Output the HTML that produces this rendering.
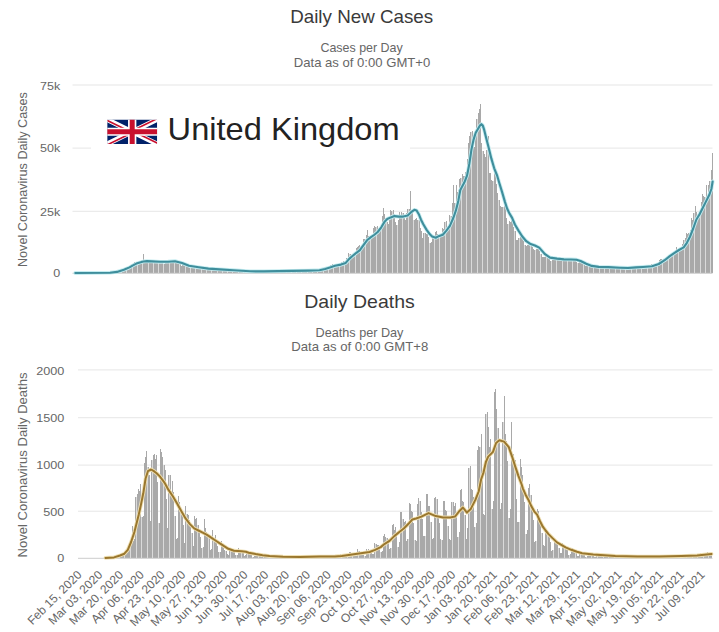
<!DOCTYPE html>
<html><head><meta charset="utf-8"><title>United Kingdom COVID-19</title>
<style>html,body{margin:0;padding:0;background:#fff;width:719px;height:632px;overflow:hidden}svg{display:block}</style>
</head><body>
<svg width="719" height="632" viewBox="0 0 719 632" font-family='"Liberation Sans", sans-serif'><text x="361.7" y="23.4" font-size="19" fill="#3a3a3a" text-anchor="middle" textLength="143" lengthAdjust="spacingAndGlyphs">Daily New Cases</text>
<text x="361.6" y="52.3" font-size="12.8" fill="#666666" text-anchor="middle" textLength="82.3" lengthAdjust="spacingAndGlyphs">Cases per Day</text>
<text x="362" y="66.8" font-size="12.8" fill="#666666" text-anchor="middle" textLength="136.5" lengthAdjust="spacingAndGlyphs">Data as of 0:00 GMT+0</text>
<rect x="72.5" y="84.5" width="640" height="1" fill="#e6e6e6"/>
<rect x="72.5" y="147.6" width="640" height="1" fill="#e6e6e6"/>
<rect x="72.5" y="210.8" width="640" height="1" fill="#e6e6e6"/>
<text x="60.2" y="89.8" font-size="11.5" fill="#666666" text-anchor="end" textLength="20.21" lengthAdjust="spacingAndGlyphs">75k</text>
<text x="60.2" y="151.9" font-size="11.5" fill="#666666" text-anchor="end" textLength="20.21" lengthAdjust="spacingAndGlyphs">50k</text>
<text x="60.2" y="215.6" font-size="11.5" fill="#666666" text-anchor="end" textLength="20.21" lengthAdjust="spacingAndGlyphs">25k</text>
<text x="60.2" y="277.2" font-size="11.5" fill="#666666" text-anchor="end" textLength="6.97" lengthAdjust="spacingAndGlyphs">0</text>
<text transform="translate(26.8,179.6) rotate(-90)" font-size="12.6" fill="#666666" text-anchor="middle" textLength="175" lengthAdjust="spacingAndGlyphs">Novel Coronavirus Daily Cases</text>
<g fill="#dadada" shape-rendering="crispEdges"><rect x="79" y="273.0" width="1" height="0.3"/><rect x="84" y="273.0" width="1" height="0.3"/><rect x="89" y="273.0" width="1" height="0.3"/><rect x="94" y="273.0" width="1" height="0.3"/><rect x="100" y="273.0" width="1" height="0.3"/><rect x="105" y="273.0" width="1" height="0.3"/><rect x="110" y="273.0" width="1" height="0.3"/><rect x="116" y="271.2" width="1" height="2.1"/><rect x="121" y="270.0" width="1" height="3.3"/><rect x="126" y="266.8" width="1" height="6.5"/><rect x="132" y="264.4" width="1" height="8.9"/><rect x="137" y="263.1" width="1" height="10.2"/><rect x="142" y="259.8" width="1" height="13.5"/><rect x="148" y="262.5" width="1" height="10.8"/><rect x="153" y="263.0" width="1" height="10.3"/><rect x="158" y="262.3" width="1" height="11.0"/><rect x="163" y="263.7" width="1" height="9.6"/><rect x="169" y="260.9" width="1" height="12.4"/><rect x="174" y="262.2" width="1" height="11.1"/><rect x="179" y="264.3" width="1" height="9.0"/><rect x="185" y="265.9" width="1" height="7.4"/><rect x="190" y="267.6" width="1" height="5.7"/><rect x="195" y="267.3" width="1" height="6.0"/><rect x="201" y="267.9" width="1" height="5.4"/><rect x="206" y="269.2" width="1" height="4.1"/><rect x="211" y="268.8" width="1" height="4.5"/><rect x="217" y="269.7" width="1" height="3.6"/><rect x="222" y="270.2" width="1" height="3.1"/><rect x="227" y="269.8" width="1" height="3.5"/><rect x="232" y="270.7" width="1" height="2.6"/><rect x="238" y="270.8" width="1" height="2.5"/><rect x="243" y="271.2" width="1" height="2.1"/><rect x="248" y="271.4" width="1" height="1.9"/><rect x="254" y="271.2" width="1" height="2.1"/><rect x="259" y="271.5" width="1" height="1.8"/><rect x="264" y="271.3" width="1" height="2.0"/><rect x="270" y="271.3" width="1" height="2.0"/><rect x="275" y="271.3" width="1" height="2.0"/><rect x="280" y="271.0" width="1" height="2.3"/><rect x="286" y="271.3" width="1" height="2.0"/><rect x="291" y="271.0" width="1" height="2.3"/><rect x="296" y="270.6" width="1" height="2.7"/><rect x="301" y="270.8" width="1" height="2.5"/><rect x="307" y="270.5" width="1" height="2.8"/><rect x="312" y="270.4" width="1" height="2.9"/><rect x="317" y="270.1" width="1" height="3.2"/><rect x="323" y="267.9" width="1" height="5.4"/><rect x="328" y="267.9" width="1" height="5.4"/><rect x="333" y="264.9" width="1" height="8.4"/><rect x="339" y="263.6" width="1" height="9.7"/><rect x="344" y="261.2" width="1" height="12.1"/><rect x="349" y="253.5" width="1" height="19.8"/><rect x="355" y="251.9" width="1" height="21.4"/><rect x="360" y="247.7" width="1" height="25.6"/><rect x="365" y="238.6" width="1" height="34.7"/><rect x="370" y="238.5" width="1" height="34.8"/><rect x="376" y="226.8" width="1" height="46.5"/><rect x="381" y="227.7" width="1" height="45.6"/><rect x="386" y="222.0" width="1" height="51.3"/><rect x="392" y="211.0" width="1" height="62.3"/><rect x="397" y="224.8" width="1" height="48.5"/><rect x="402" y="213.4" width="1" height="59.9"/><rect x="408" y="208.9" width="1" height="64.4"/><rect x="413" y="219.9" width="1" height="53.4"/><rect x="418" y="219.5" width="1" height="53.8"/><rect x="424" y="232.5" width="1" height="40.8"/><rect x="429" y="242.9" width="1" height="30.4"/><rect x="434" y="236.0" width="1" height="37.3"/><rect x="439" y="237.4" width="1" height="35.9"/><rect x="445" y="221.6" width="1" height="51.7"/><rect x="450" y="215.7" width="1" height="57.6"/><rect x="455" y="202.6" width="1" height="70.7"/><rect x="461" y="177.7" width="1" height="95.6"/><rect x="466" y="172.4" width="1" height="100.9"/><rect x="471" y="132.4" width="1" height="140.9"/><rect x="477" y="118.5" width="1" height="154.8"/><rect x="482" y="151.4" width="1" height="121.9"/><rect x="487" y="150.4" width="1" height="122.9"/><rect x="493" y="181.1" width="1" height="92.2"/><rect x="498" y="200.1" width="1" height="73.2"/><rect x="503" y="206.8" width="1" height="66.5"/><rect x="508" y="224.1" width="1" height="49.2"/><rect x="514" y="230.7" width="1" height="42.6"/><rect x="519" y="238.4" width="1" height="34.9"/><rect x="524" y="244.8" width="1" height="28.5"/><rect x="530" y="242.9" width="1" height="30.4"/><rect x="535" y="249.9" width="1" height="23.4"/><rect x="540" y="254.0" width="1" height="19.3"/><rect x="546" y="256.5" width="1" height="16.8"/><rect x="551" y="260.5" width="1" height="12.8"/><rect x="556" y="259.4" width="1" height="13.9"/><rect x="562" y="260.7" width="1" height="12.6"/><rect x="567" y="259.9" width="1" height="13.4"/><rect x="572" y="258.8" width="1" height="14.5"/><rect x="577" y="262.8" width="1" height="10.5"/><rect x="583" y="264.1" width="1" height="9.2"/><rect x="588" y="265.8" width="1" height="7.5"/><rect x="593" y="267.1" width="1" height="6.2"/><rect x="599" y="266.4" width="1" height="6.9"/><rect x="604" y="267.7" width="1" height="5.6"/><rect x="609" y="267.4" width="1" height="5.9"/><rect x="615" y="267.6" width="1" height="5.7"/><rect x="620" y="268.4" width="1" height="4.9"/><rect x="625" y="267.7" width="1" height="5.6"/><rect x="631" y="267.9" width="1" height="5.4"/><rect x="636" y="268.1" width="1" height="5.2"/><rect x="641" y="267.1" width="1" height="6.2"/><rect x="647" y="267.1" width="1" height="6.2"/><rect x="652" y="264.3" width="1" height="9.0"/><rect x="657" y="263.7" width="1" height="9.6"/><rect x="662" y="260.6" width="1" height="12.7"/><rect x="668" y="258.2" width="1" height="15.1"/><rect x="673" y="253.5" width="1" height="19.8"/><rect x="678" y="249.3" width="1" height="24.0"/><rect x="684" y="239.8" width="1" height="33.5"/><rect x="689" y="232.8" width="1" height="40.5"/><rect x="694" y="213.0" width="1" height="60.3"/><rect x="700" y="212.2" width="1" height="61.1"/><rect x="705" y="196.6" width="1" height="76.7"/><rect x="710" y="181.3" width="1" height="92.0"/></g><g fill="#a9a9a9" shape-rendering="crispEdges"><rect x="75" y="273.0" width="1" height="0.3"/><rect x="76" y="273.0" width="1" height="0.3"/><rect x="77" y="273.0" width="1" height="0.3"/><rect x="78" y="273.0" width="1" height="0.3"/><rect x="80" y="273.0" width="1" height="0.3"/><rect x="81" y="273.0" width="1" height="0.3"/><rect x="82" y="273.0" width="1" height="0.3"/><rect x="83" y="273.0" width="1" height="0.3"/><rect x="85" y="273.0" width="1" height="0.3"/><rect x="86" y="273.0" width="1" height="0.3"/><rect x="87" y="273.0" width="1" height="0.3"/><rect x="88" y="273.0" width="1" height="0.3"/><rect x="90" y="273.0" width="1" height="0.3"/><rect x="91" y="273.0" width="1" height="0.3"/><rect x="92" y="273.0" width="1" height="0.3"/><rect x="93" y="273.0" width="1" height="0.3"/><rect x="95" y="273.0" width="1" height="0.3"/><rect x="96" y="273.0" width="1" height="0.3"/><rect x="97" y="273.0" width="1" height="0.3"/><rect x="98" y="273.0" width="1" height="0.3"/><rect x="99" y="273.0" width="1" height="0.3"/><rect x="101" y="273.0" width="1" height="0.3"/><rect x="102" y="273.0" width="1" height="0.3"/><rect x="103" y="273.0" width="1" height="0.3"/><rect x="104" y="273.0" width="1" height="0.3"/><rect x="106" y="273.0" width="1" height="0.3"/><rect x="107" y="273.0" width="1" height="0.3"/><rect x="108" y="273.0" width="1" height="0.3"/><rect x="109" y="273.0" width="1" height="0.3"/><rect x="111" y="272.7" width="1" height="0.6"/><rect x="112" y="272.3" width="1" height="1.0"/><rect x="113" y="272.0" width="1" height="1.3"/><rect x="114" y="271.6" width="1" height="1.7"/><rect x="115" y="271.2" width="1" height="2.1"/><rect x="117" y="270.8" width="1" height="2.5"/><rect x="118" y="270.5" width="1" height="2.8"/><rect x="119" y="270.3" width="1" height="3.0"/><rect x="120" y="270.0" width="1" height="3.3"/><rect x="122" y="269.2" width="1" height="4.1"/><rect x="123" y="268.0" width="1" height="5.3"/><rect x="124" y="267.6" width="1" height="5.7"/><rect x="125" y="266.8" width="1" height="6.5"/><rect x="127" y="266.6" width="1" height="6.7"/><rect x="128" y="267.0" width="1" height="6.3"/><rect x="129" y="266.1" width="1" height="7.2"/><rect x="130" y="264.5" width="1" height="8.8"/><rect x="131" y="264.4" width="1" height="8.9"/><rect x="133" y="262.7" width="1" height="10.6"/><rect x="134" y="262.2" width="1" height="11.1"/><rect x="135" y="263.0" width="1" height="10.3"/><rect x="136" y="263.0" width="1" height="10.3"/><rect x="138" y="263.1" width="1" height="10.2"/><rect x="139" y="262.7" width="1" height="10.6"/><rect x="140" y="260.5" width="1" height="12.8"/><rect x="141" y="259.8" width="1" height="13.5"/><rect x="143" y="254.2" width="1" height="19.1"/><rect x="144" y="260.5" width="1" height="12.8"/><rect x="145" y="262.0" width="1" height="11.3"/><rect x="146" y="262.5" width="1" height="10.8"/><rect x="147" y="262.5" width="1" height="10.8"/><rect x="149" y="260.7" width="1" height="12.6"/><rect x="150" y="260.8" width="1" height="12.5"/><rect x="151" y="260.8" width="1" height="12.5"/><rect x="152" y="262.2" width="1" height="11.1"/><rect x="154" y="263.0" width="1" height="10.3"/><rect x="155" y="263.1" width="1" height="10.2"/><rect x="156" y="261.7" width="1" height="11.6"/><rect x="157" y="262.3" width="1" height="11.0"/><rect x="159" y="261.5" width="1" height="11.8"/><rect x="160" y="260.6" width="1" height="12.7"/><rect x="161" y="261.1" width="1" height="12.2"/><rect x="162" y="262.4" width="1" height="10.9"/><rect x="164" y="263.7" width="1" height="9.6"/><rect x="165" y="263.2" width="1" height="10.1"/><rect x="166" y="260.9" width="1" height="12.4"/><rect x="167" y="260.8" width="1" height="12.5"/><rect x="168" y="260.9" width="1" height="12.4"/><rect x="170" y="260.8" width="1" height="12.5"/><rect x="171" y="261.7" width="1" height="11.6"/><rect x="172" y="262.7" width="1" height="10.6"/><rect x="173" y="262.2" width="1" height="11.1"/><rect x="175" y="261.5" width="1" height="11.8"/><rect x="176" y="260.8" width="1" height="12.5"/><rect x="177" y="261.6" width="1" height="11.7"/><rect x="178" y="263.0" width="1" height="10.3"/><rect x="180" y="264.3" width="1" height="9.0"/><rect x="181" y="265.6" width="1" height="7.7"/><rect x="182" y="264.6" width="1" height="8.7"/><rect x="183" y="264.5" width="1" height="8.8"/><rect x="184" y="264.8" width="1" height="8.5"/><rect x="186" y="265.9" width="1" height="7.4"/><rect x="187" y="266.3" width="1" height="7.0"/><rect x="188" y="266.7" width="1" height="6.6"/><rect x="189" y="267.6" width="1" height="5.7"/><rect x="191" y="267.0" width="1" height="6.3"/><rect x="192" y="266.4" width="1" height="6.9"/><rect x="193" y="266.9" width="1" height="6.4"/><rect x="194" y="266.3" width="1" height="7.0"/><rect x="196" y="267.3" width="1" height="6.0"/><rect x="197" y="268.1" width="1" height="5.2"/><rect x="198" y="268.3" width="1" height="5.0"/><rect x="199" y="268.0" width="1" height="5.3"/><rect x="200" y="267.9" width="1" height="5.4"/><rect x="202" y="267.6" width="1" height="5.7"/><rect x="203" y="268.1" width="1" height="5.2"/><rect x="204" y="268.7" width="1" height="4.6"/><rect x="205" y="268.9" width="1" height="4.4"/><rect x="207" y="269.2" width="1" height="4.1"/><rect x="208" y="269.2" width="1" height="4.1"/><rect x="209" y="268.6" width="1" height="4.7"/><rect x="210" y="268.4" width="1" height="4.9"/><rect x="212" y="268.8" width="1" height="4.5"/><rect x="213" y="269.4" width="1" height="3.9"/><rect x="214" y="269.6" width="1" height="3.7"/><rect x="215" y="269.8" width="1" height="3.5"/><rect x="216" y="269.7" width="1" height="3.6"/><rect x="218" y="269.2" width="1" height="4.1"/><rect x="219" y="269.4" width="1" height="3.9"/><rect x="220" y="269.2" width="1" height="4.1"/><rect x="221" y="269.9" width="1" height="3.4"/><rect x="223" y="270.2" width="1" height="3.1"/><rect x="224" y="270.2" width="1" height="3.1"/><rect x="225" y="270.0" width="1" height="3.3"/><rect x="226" y="269.8" width="1" height="3.5"/><rect x="228" y="269.8" width="1" height="3.5"/><rect x="229" y="269.9" width="1" height="3.4"/><rect x="230" y="270.2" width="1" height="3.1"/><rect x="231" y="270.5" width="1" height="2.8"/><rect x="233" y="270.7" width="1" height="2.6"/><rect x="234" y="270.6" width="1" height="2.7"/><rect x="235" y="270.4" width="1" height="2.9"/><rect x="236" y="270.4" width="1" height="2.9"/><rect x="237" y="270.4" width="1" height="2.9"/><rect x="239" y="270.8" width="1" height="2.5"/><rect x="240" y="270.9" width="1" height="2.4"/><rect x="241" y="271.2" width="1" height="2.1"/><rect x="242" y="271.2" width="1" height="2.1"/><rect x="244" y="271.1" width="1" height="2.2"/><rect x="245" y="271.1" width="1" height="2.2"/><rect x="246" y="271.0" width="1" height="2.3"/><rect x="247" y="271.3" width="1" height="2.0"/><rect x="249" y="271.4" width="1" height="1.9"/><rect x="250" y="271.4" width="1" height="1.9"/><rect x="251" y="271.6" width="1" height="1.7"/><rect x="252" y="271.4" width="1" height="1.9"/><rect x="253" y="271.2" width="1" height="2.1"/><rect x="255" y="271.2" width="1" height="2.1"/><rect x="256" y="271.4" width="1" height="1.9"/><rect x="257" y="271.6" width="1" height="1.7"/><rect x="258" y="271.5" width="1" height="1.8"/><rect x="260" y="271.5" width="1" height="1.8"/><rect x="261" y="271.3" width="1" height="2.0"/><rect x="262" y="271.0" width="1" height="2.3"/><rect x="263" y="271.1" width="1" height="2.2"/><rect x="265" y="271.3" width="1" height="2.0"/><rect x="266" y="271.4" width="1" height="1.9"/><rect x="267" y="271.5" width="1" height="1.8"/><rect x="268" y="271.3" width="1" height="2.0"/><rect x="269" y="271.3" width="1" height="2.0"/><rect x="271" y="271.0" width="1" height="2.3"/><rect x="272" y="270.9" width="1" height="2.4"/><rect x="273" y="271.2" width="1" height="2.1"/><rect x="274" y="271.3" width="1" height="2.0"/><rect x="276" y="271.2" width="1" height="2.1"/><rect x="277" y="271.1" width="1" height="2.2"/><rect x="278" y="270.8" width="1" height="2.5"/><rect x="279" y="271.0" width="1" height="2.3"/><rect x="281" y="270.8" width="1" height="2.5"/><rect x="282" y="271.0" width="1" height="2.3"/><rect x="283" y="271.1" width="1" height="2.2"/><rect x="284" y="271.1" width="1" height="2.2"/><rect x="285" y="271.3" width="1" height="2.0"/><rect x="287" y="270.7" width="1" height="2.6"/><rect x="288" y="270.8" width="1" height="2.5"/><rect x="289" y="270.6" width="1" height="2.7"/><rect x="290" y="271.0" width="1" height="2.3"/><rect x="292" y="271.0" width="1" height="2.3"/><rect x="293" y="270.9" width="1" height="2.4"/><rect x="294" y="270.9" width="1" height="2.4"/><rect x="295" y="270.6" width="1" height="2.7"/><rect x="297" y="270.4" width="1" height="2.9"/><rect x="298" y="270.5" width="1" height="2.8"/><rect x="299" y="270.7" width="1" height="2.6"/><rect x="300" y="270.7" width="1" height="2.6"/><rect x="302" y="270.8" width="1" height="2.5"/><rect x="303" y="270.8" width="1" height="2.5"/><rect x="304" y="270.2" width="1" height="3.1"/><rect x="305" y="270.5" width="1" height="2.8"/><rect x="306" y="270.2" width="1" height="3.1"/><rect x="308" y="270.5" width="1" height="2.8"/><rect x="309" y="270.6" width="1" height="2.7"/><rect x="310" y="270.6" width="1" height="2.7"/><rect x="311" y="270.4" width="1" height="2.9"/><rect x="313" y="270.1" width="1" height="3.2"/><rect x="314" y="270.2" width="1" height="3.1"/><rect x="315" y="270.1" width="1" height="3.2"/><rect x="316" y="269.9" width="1" height="3.4"/><rect x="318" y="270.1" width="1" height="3.2"/><rect x="319" y="269.9" width="1" height="3.4"/><rect x="320" y="269.5" width="1" height="3.8"/><rect x="321" y="268.4" width="1" height="4.9"/><rect x="322" y="267.9" width="1" height="5.4"/><rect x="324" y="267.3" width="1" height="6.0"/><rect x="325" y="268.0" width="1" height="5.3"/><rect x="326" y="267.9" width="1" height="5.4"/><rect x="327" y="267.9" width="1" height="5.4"/><rect x="329" y="266.6" width="1" height="6.7"/><rect x="330" y="265.4" width="1" height="7.9"/><rect x="331" y="265.4" width="1" height="7.9"/><rect x="332" y="264.3" width="1" height="9.0"/><rect x="334" y="264.9" width="1" height="8.4"/><rect x="335" y="265.7" width="1" height="7.6"/><rect x="336" y="266.2" width="1" height="7.1"/><rect x="337" y="264.3" width="1" height="9.0"/><rect x="338" y="263.6" width="1" height="9.7"/><rect x="340" y="262.9" width="1" height="10.4"/><rect x="341" y="262.0" width="1" height="11.3"/><rect x="342" y="262.0" width="1" height="11.3"/><rect x="343" y="261.0" width="1" height="12.3"/><rect x="345" y="261.2" width="1" height="12.1"/><rect x="346" y="258.1" width="1" height="15.2"/><rect x="347" y="257.5" width="1" height="15.8"/><rect x="348" y="253.4" width="1" height="19.9"/><rect x="350" y="253.5" width="1" height="19.8"/><rect x="351" y="254.6" width="1" height="18.7"/><rect x="352" y="253.8" width="1" height="19.5"/><rect x="353" y="254.1" width="1" height="19.2"/><rect x="354" y="251.9" width="1" height="21.4"/><rect x="356" y="247.9" width="1" height="25.4"/><rect x="357" y="246.5" width="1" height="26.8"/><rect x="358" y="245.7" width="1" height="27.6"/><rect x="359" y="245.4" width="1" height="27.9"/><rect x="361" y="247.7" width="1" height="25.6"/><rect x="362" y="243.8" width="1" height="29.5"/><rect x="363" y="238.6" width="1" height="34.7"/><rect x="364" y="238.6" width="1" height="34.7"/><rect x="366" y="234.9" width="1" height="38.4"/><rect x="367" y="230.2" width="1" height="43.1"/><rect x="368" y="236.2" width="1" height="37.1"/><rect x="369" y="236.6" width="1" height="36.7"/><rect x="371" y="238.5" width="1" height="34.8"/><rect x="372" y="233.5" width="1" height="39.8"/><rect x="373" y="228.3" width="1" height="45.0"/><rect x="374" y="225.5" width="1" height="47.8"/><rect x="375" y="226.8" width="1" height="46.5"/><rect x="377" y="226.3" width="1" height="47.0"/><rect x="378" y="233.0" width="1" height="40.3"/><rect x="379" y="230.8" width="1" height="42.5"/><rect x="380" y="227.7" width="1" height="45.6"/><rect x="382" y="215.9" width="1" height="57.4"/><rect x="383" y="208.3" width="1" height="65.0"/><rect x="384" y="213.6" width="1" height="59.7"/><rect x="385" y="218.4" width="1" height="54.9"/><rect x="387" y="222.0" width="1" height="51.3"/><rect x="388" y="223.8" width="1" height="49.5"/><rect x="389" y="218.3" width="1" height="55.0"/><rect x="390" y="209.6" width="1" height="63.7"/><rect x="391" y="211.0" width="1" height="62.3"/><rect x="393" y="209.9" width="1" height="63.4"/><rect x="394" y="214.2" width="1" height="59.1"/><rect x="395" y="221.5" width="1" height="51.8"/><rect x="396" y="224.8" width="1" height="48.5"/><rect x="398" y="220.1" width="1" height="53.2"/><rect x="399" y="211.8" width="1" height="61.5"/><rect x="400" y="215.3" width="1" height="58.0"/><rect x="401" y="212.4" width="1" height="60.9"/><rect x="403" y="213.4" width="1" height="59.9"/><rect x="404" y="218.2" width="1" height="55.1"/><rect x="405" y="220.0" width="1" height="53.3"/><rect x="406" y="213.4" width="1" height="59.9"/><rect x="407" y="208.9" width="1" height="64.4"/><rect x="409" y="208.5" width="1" height="64.8"/><rect x="410" y="190.9" width="1" height="82.4"/><rect x="411" y="211.7" width="1" height="61.6"/><rect x="412" y="213.4" width="1" height="59.9"/><rect x="414" y="219.9" width="1" height="53.4"/><rect x="415" y="219.2" width="1" height="54.1"/><rect x="416" y="217.5" width="1" height="55.8"/><rect x="417" y="219.5" width="1" height="53.8"/><rect x="419" y="219.0" width="1" height="54.3"/><rect x="420" y="227.7" width="1" height="45.6"/><rect x="421" y="230.6" width="1" height="42.7"/><rect x="422" y="237.7" width="1" height="35.6"/><rect x="423" y="232.5" width="1" height="40.8"/><rect x="425" y="232.5" width="1" height="40.8"/><rect x="426" y="234.3" width="1" height="39.0"/><rect x="427" y="231.1" width="1" height="42.2"/><rect x="428" y="237.0" width="1" height="36.3"/><rect x="430" y="242.9" width="1" height="30.4"/><rect x="431" y="242.2" width="1" height="31.1"/><rect x="432" y="238.4" width="1" height="34.9"/><rect x="433" y="236.0" width="1" height="37.3"/><rect x="435" y="231.6" width="1" height="41.7"/><rect x="436" y="231.0" width="1" height="42.3"/><rect x="437" y="234.2" width="1" height="39.1"/><rect x="438" y="237.4" width="1" height="35.9"/><rect x="440" y="235.7" width="1" height="37.6"/><rect x="441" y="232.9" width="1" height="40.4"/><rect x="442" y="228.4" width="1" height="44.9"/><rect x="443" y="229.3" width="1" height="44.0"/><rect x="444" y="221.6" width="1" height="51.7"/><rect x="446" y="221.0" width="1" height="52.3"/><rect x="447" y="227.6" width="1" height="45.7"/><rect x="448" y="226.4" width="1" height="46.9"/><rect x="449" y="215.4" width="1" height="57.9"/><rect x="451" y="215.7" width="1" height="57.6"/><rect x="452" y="202.9" width="1" height="70.4"/><rect x="453" y="185.4" width="1" height="87.9"/><rect x="454" y="202.6" width="1" height="70.7"/><rect x="456" y="185.4" width="1" height="87.9"/><rect x="457" y="191.5" width="1" height="81.8"/><rect x="458" y="190.4" width="1" height="82.9"/><rect x="459" y="178.6" width="1" height="94.7"/><rect x="460" y="177.7" width="1" height="95.6"/><rect x="462" y="173.8" width="1" height="99.5"/><rect x="463" y="175.7" width="1" height="97.6"/><rect x="464" y="176.2" width="1" height="97.1"/><rect x="465" y="172.4" width="1" height="100.9"/><rect x="467" y="158.7" width="1" height="114.6"/><rect x="468" y="142.7" width="1" height="130.6"/><rect x="469" y="135.6" width="1" height="137.7"/><rect x="470" y="132.4" width="1" height="140.9"/><rect x="472" y="131.3" width="1" height="142.0"/><rect x="473" y="141.5" width="1" height="131.8"/><rect x="474" y="147.4" width="1" height="125.9"/><rect x="475" y="137.0" width="1" height="136.3"/><rect x="476" y="118.5" width="1" height="154.8"/><rect x="478" y="113.3" width="1" height="160.0"/><rect x="479" y="109.3" width="1" height="164.0"/><rect x="480" y="104.3" width="1" height="169.0"/><rect x="481" y="143.4" width="1" height="129.9"/><rect x="483" y="151.4" width="1" height="121.9"/><rect x="484" y="153.6" width="1" height="119.7"/><rect x="485" y="156.9" width="1" height="116.4"/><rect x="486" y="150.4" width="1" height="122.9"/><rect x="488" y="135.6" width="1" height="137.7"/><rect x="489" y="172.6" width="1" height="100.7"/><rect x="490" y="172.7" width="1" height="100.6"/><rect x="491" y="180.4" width="1" height="92.9"/><rect x="492" y="181.1" width="1" height="92.2"/><rect x="494" y="169.2" width="1" height="104.1"/><rect x="495" y="167.1" width="1" height="106.2"/><rect x="496" y="184.0" width="1" height="89.3"/><rect x="497" y="192.7" width="1" height="80.6"/><rect x="499" y="200.1" width="1" height="73.2"/><rect x="500" y="205.9" width="1" height="67.4"/><rect x="501" y="206.9" width="1" height="66.4"/><rect x="502" y="206.8" width="1" height="66.5"/><rect x="504" y="198.4" width="1" height="74.9"/><rect x="505" y="204.4" width="1" height="68.9"/><rect x="506" y="217.5" width="1" height="55.8"/><rect x="507" y="224.1" width="1" height="49.2"/><rect x="509" y="221.4" width="1" height="51.9"/><rect x="510" y="222.3" width="1" height="51.0"/><rect x="511" y="219.3" width="1" height="54.0"/><rect x="512" y="221.2" width="1" height="52.1"/><rect x="513" y="226.8" width="1" height="46.5"/><rect x="515" y="230.7" width="1" height="42.6"/><rect x="516" y="239.5" width="1" height="33.8"/><rect x="517" y="239.9" width="1" height="33.4"/><rect x="518" y="238.4" width="1" height="34.9"/><rect x="520" y="236.1" width="1" height="37.2"/><rect x="521" y="237.7" width="1" height="35.6"/><rect x="522" y="238.4" width="1" height="34.9"/><rect x="523" y="241.4" width="1" height="31.9"/><rect x="525" y="244.8" width="1" height="28.5"/><rect x="526" y="245.9" width="1" height="27.4"/><rect x="527" y="245.2" width="1" height="28.1"/><rect x="528" y="243.9" width="1" height="29.4"/><rect x="529" y="241.6" width="1" height="31.7"/><rect x="531" y="242.9" width="1" height="30.4"/><rect x="532" y="247.0" width="1" height="26.3"/><rect x="533" y="249.4" width="1" height="23.9"/><rect x="534" y="249.9" width="1" height="23.4"/><rect x="536" y="249.4" width="1" height="23.9"/><rect x="537" y="248.6" width="1" height="24.7"/><rect x="538" y="249.1" width="1" height="24.2"/><rect x="539" y="250.5" width="1" height="22.8"/><rect x="541" y="254.0" width="1" height="19.3"/><rect x="542" y="257.2" width="1" height="16.1"/><rect x="543" y="257.2" width="1" height="16.1"/><rect x="544" y="256.5" width="1" height="16.8"/><rect x="545" y="256.4" width="1" height="16.9"/><rect x="547" y="256.5" width="1" height="16.8"/><rect x="548" y="256.2" width="1" height="17.1"/><rect x="549" y="258.7" width="1" height="14.6"/><rect x="550" y="260.5" width="1" height="12.8"/><rect x="552" y="259.9" width="1" height="13.4"/><rect x="553" y="259.7" width="1" height="13.6"/><rect x="554" y="257.7" width="1" height="15.6"/><rect x="555" y="258.3" width="1" height="15.0"/><rect x="557" y="259.4" width="1" height="13.9"/><rect x="558" y="259.8" width="1" height="13.5"/><rect x="559" y="259.6" width="1" height="13.7"/><rect x="560" y="261.0" width="1" height="12.3"/><rect x="561" y="260.7" width="1" height="12.6"/><rect x="563" y="259.3" width="1" height="14.0"/><rect x="564" y="257.9" width="1" height="15.4"/><rect x="565" y="257.9" width="1" height="15.4"/><rect x="566" y="259.4" width="1" height="13.9"/><rect x="568" y="259.9" width="1" height="13.4"/><rect x="569" y="260.6" width="1" height="12.7"/><rect x="570" y="260.2" width="1" height="13.1"/><rect x="571" y="258.8" width="1" height="14.5"/><rect x="573" y="257.9" width="1" height="15.4"/><rect x="574" y="258.5" width="1" height="14.8"/><rect x="575" y="260.1" width="1" height="13.2"/><rect x="576" y="262.4" width="1" height="10.9"/><rect x="578" y="262.8" width="1" height="10.5"/><rect x="579" y="262.3" width="1" height="11.0"/><rect x="580" y="262.5" width="1" height="10.8"/><rect x="581" y="262.0" width="1" height="11.3"/><rect x="582" y="262.9" width="1" height="10.4"/><rect x="584" y="264.1" width="1" height="9.2"/><rect x="585" y="265.6" width="1" height="7.7"/><rect x="586" y="265.4" width="1" height="7.9"/><rect x="587" y="265.8" width="1" height="7.5"/><rect x="589" y="265.8" width="1" height="7.5"/><rect x="590" y="265.6" width="1" height="7.7"/><rect x="591" y="265.0" width="1" height="8.3"/><rect x="592" y="266.7" width="1" height="6.6"/><rect x="594" y="267.1" width="1" height="6.2"/><rect x="595" y="267.3" width="1" height="6.0"/><rect x="596" y="267.2" width="1" height="6.1"/><rect x="597" y="267.0" width="1" height="6.3"/><rect x="598" y="266.4" width="1" height="6.9"/><rect x="600" y="266.3" width="1" height="7.0"/><rect x="601" y="266.7" width="1" height="6.6"/><rect x="602" y="267.4" width="1" height="5.9"/><rect x="603" y="267.7" width="1" height="5.6"/><rect x="605" y="267.2" width="1" height="6.1"/><rect x="606" y="266.8" width="1" height="6.5"/><rect x="607" y="266.7" width="1" height="6.6"/><rect x="608" y="266.8" width="1" height="6.5"/><rect x="610" y="267.4" width="1" height="5.9"/><rect x="611" y="267.8" width="1" height="5.5"/><rect x="612" y="268.3" width="1" height="5.0"/><rect x="613" y="268.0" width="1" height="5.3"/><rect x="614" y="267.4" width="1" height="5.9"/><rect x="616" y="267.6" width="1" height="5.7"/><rect x="617" y="267.4" width="1" height="5.9"/><rect x="618" y="268.2" width="1" height="5.1"/><rect x="619" y="268.4" width="1" height="4.9"/><rect x="621" y="268.3" width="1" height="5.0"/><rect x="622" y="268.0" width="1" height="5.3"/><rect x="623" y="267.8" width="1" height="5.5"/><rect x="624" y="267.5" width="1" height="5.8"/><rect x="626" y="267.7" width="1" height="5.6"/><rect x="627" y="267.4" width="1" height="5.9"/><rect x="628" y="268.0" width="1" height="5.3"/><rect x="629" y="267.9" width="1" height="5.4"/><rect x="630" y="267.9" width="1" height="5.4"/><rect x="632" y="267.2" width="1" height="6.1"/><rect x="633" y="267.3" width="1" height="6.0"/><rect x="634" y="266.5" width="1" height="6.8"/><rect x="635" y="267.0" width="1" height="6.3"/><rect x="637" y="268.1" width="1" height="5.2"/><rect x="638" y="267.7" width="1" height="5.6"/><rect x="639" y="267.1" width="1" height="6.2"/><rect x="640" y="267.1" width="1" height="6.2"/><rect x="642" y="266.7" width="1" height="6.6"/><rect x="643" y="266.4" width="1" height="6.9"/><rect x="644" y="266.8" width="1" height="6.5"/><rect x="645" y="267.4" width="1" height="5.9"/><rect x="646" y="267.1" width="1" height="6.2"/><rect x="648" y="266.5" width="1" height="6.8"/><rect x="649" y="265.4" width="1" height="7.9"/><rect x="650" y="264.6" width="1" height="8.7"/><rect x="651" y="263.8" width="1" height="9.5"/><rect x="653" y="264.3" width="1" height="9.0"/><rect x="654" y="265.4" width="1" height="7.9"/><rect x="655" y="264.8" width="1" height="8.5"/><rect x="656" y="263.7" width="1" height="9.6"/><rect x="658" y="262.1" width="1" height="11.2"/><rect x="659" y="260.2" width="1" height="13.1"/><rect x="660" y="259.3" width="1" height="14.0"/><rect x="661" y="259.3" width="1" height="14.0"/><rect x="663" y="260.6" width="1" height="12.7"/><rect x="664" y="259.9" width="1" height="13.4"/><rect x="665" y="258.4" width="1" height="14.9"/><rect x="666" y="258.3" width="1" height="15.0"/><rect x="667" y="258.2" width="1" height="15.1"/><rect x="669" y="258.1" width="1" height="15.2"/><rect x="670" y="257.0" width="1" height="16.3"/><rect x="671" y="253.8" width="1" height="19.5"/><rect x="672" y="253.5" width="1" height="19.8"/><rect x="674" y="251.8" width="1" height="21.5"/><rect x="675" y="249.7" width="1" height="23.6"/><rect x="676" y="247.3" width="1" height="26.0"/><rect x="677" y="249.3" width="1" height="24.0"/><rect x="679" y="248.9" width="1" height="24.4"/><rect x="680" y="249.1" width="1" height="24.2"/><rect x="681" y="249.6" width="1" height="23.7"/><rect x="682" y="244.4" width="1" height="28.9"/><rect x="683" y="239.8" width="1" height="33.5"/><rect x="685" y="237.9" width="1" height="35.4"/><rect x="686" y="233.3" width="1" height="40.0"/><rect x="687" y="233.8" width="1" height="39.5"/><rect x="688" y="232.8" width="1" height="40.5"/><rect x="690" y="230.4" width="1" height="42.9"/><rect x="691" y="218.3" width="1" height="55.0"/><rect x="692" y="219.6" width="1" height="53.7"/><rect x="693" y="213.0" width="1" height="60.3"/><rect x="695" y="206.4" width="1" height="66.9"/><rect x="696" y="211.8" width="1" height="61.5"/><rect x="697" y="215.3" width="1" height="58.0"/><rect x="698" y="216.7" width="1" height="56.6"/><rect x="699" y="212.2" width="1" height="61.1"/><rect x="701" y="201.9" width="1" height="71.4"/><rect x="702" y="193.7" width="1" height="79.6"/><rect x="703" y="195.6" width="1" height="77.7"/><rect x="704" y="196.6" width="1" height="76.7"/><rect x="706" y="185.0" width="1" height="88.3"/><rect x="707" y="197.9" width="1" height="75.4"/><rect x="708" y="185.2" width="1" height="88.1"/><rect x="709" y="181.3" width="1" height="92.0"/><rect x="711" y="169.9" width="1" height="103.4"/><rect x="712" y="153.3" width="1" height="120.0"/></g>
<rect x="72.5" y="272.8" width="640" height="1" fill="#cccccc"/>
<path d="M75.3,273.0 L110.0,272.7 L117.0,271.9 L123.9,269.8 L129.5,267.4 L133.0,265.4 L136.4,263.6 L139.9,262.5 L143.4,261.5 L146.9,261.1 L151.7,261.4 L160.0,261.8 L168.0,261.7 L175.0,261.2 L182.0,263.0 L189.0,265.8 L198.7,267.3 L208.4,268.6 L219.5,269.4 L233.4,270.2 L250.0,271.3 L264.0,271.4 L278.0,271.1 L292.0,270.9 L308.4,270.6 L319.5,270.2 L325.1,268.9 L330.7,267.3 L335.0,265.8 L340.9,264.6 L345.7,262.9 L349.2,258.9 L352.8,255.8 L356.4,252.8 L359.9,250.2 L363.5,245.1 L367.0,240.3 L370.6,237.4 L374.1,235.0 L377.7,232.0 L381.3,227.3 L384.8,221.4 L387.2,219.0 L390.8,217.4 L394.4,216.1 L398.9,216.6 L403.3,216.6 L407.7,215.5 L411.1,212.2 L414.4,209.8 L416.6,210.5 L418.8,214.2 L421.0,219.7 L423.3,224.3 L426.6,229.9 L429.9,234.3 L432.1,236.4 L435.7,237.7 L439.3,235.9 L442.8,234.7 L446.4,230.6 L449.9,225.8 L453.5,217.5 L455.9,210.4 L458.3,200.9 L460.3,190.0 L464.3,182.6 L467.1,175.4 L469.3,164.0 L471.4,149.8 L473.5,139.9 L475.7,132.7 L477.8,129.2 L479.9,125.6 L481.4,124.2 L482.8,125.6 L484.2,129.9 L486.3,138.4 L488.5,147.0 L491.3,158.4 L494.2,168.3 L497.1,175.5 L499.3,183.0 L502.1,192.1 L505.0,202.1 L507.1,208.5 L509.2,213.0 L512.1,217.9 L514.9,224.5 L518.5,230.6 L522.1,236.3 L526.3,241.2 L530.6,244.1 L534.9,245.5 L539.2,247.6 L543.4,252.4 L545.0,254.2 L550.0,257.6 L557.0,258.6 L563.9,259.4 L570.9,259.5 L576.4,259.7 L580.6,261.0 L586.2,263.8 L591.7,265.9 L598.7,266.9 L608.4,267.1 L619.5,267.7 L627.9,268.0 L636.2,267.4 L643.0,267.0 L652.1,266.3 L658.8,264.0 L664.7,260.2 L669.5,256.4 L674.2,253.1 L679.0,250.0 L683.7,247.4 L686.9,242.8 L690.1,236.5 L693.2,228.5 L696.4,219.5 L699.6,214.3 L702.7,208.0 L705.9,201.6 L709.1,195.3 L711.4,189.0 L712.6,181.5" fill="none" stroke="#c4ecf0" stroke-width="3.8" stroke-linejoin="round" stroke-linecap="round"/><path d="M75.3,273.0 L110.0,272.7 L117.0,271.9 L123.9,269.8 L129.5,267.4 L133.0,265.4 L136.4,263.6 L139.9,262.5 L143.4,261.5 L146.9,261.1 L151.7,261.4 L160.0,261.8 L168.0,261.7 L175.0,261.2 L182.0,263.0 L189.0,265.8 L198.7,267.3 L208.4,268.6 L219.5,269.4 L233.4,270.2 L250.0,271.3 L264.0,271.4 L278.0,271.1 L292.0,270.9 L308.4,270.6 L319.5,270.2 L325.1,268.9 L330.7,267.3 L335.0,265.8 L340.9,264.6 L345.7,262.9 L349.2,258.9 L352.8,255.8 L356.4,252.8 L359.9,250.2 L363.5,245.1 L367.0,240.3 L370.6,237.4 L374.1,235.0 L377.7,232.0 L381.3,227.3 L384.8,221.4 L387.2,219.0 L390.8,217.4 L394.4,216.1 L398.9,216.6 L403.3,216.6 L407.7,215.5 L411.1,212.2 L414.4,209.8 L416.6,210.5 L418.8,214.2 L421.0,219.7 L423.3,224.3 L426.6,229.9 L429.9,234.3 L432.1,236.4 L435.7,237.7 L439.3,235.9 L442.8,234.7 L446.4,230.6 L449.9,225.8 L453.5,217.5 L455.9,210.4 L458.3,200.9 L460.3,190.0 L464.3,182.6 L467.1,175.4 L469.3,164.0 L471.4,149.8 L473.5,139.9 L475.7,132.7 L477.8,129.2 L479.9,125.6 L481.4,124.2 L482.8,125.6 L484.2,129.9 L486.3,138.4 L488.5,147.0 L491.3,158.4 L494.2,168.3 L497.1,175.5 L499.3,183.0 L502.1,192.1 L505.0,202.1 L507.1,208.5 L509.2,213.0 L512.1,217.9 L514.9,224.5 L518.5,230.6 L522.1,236.3 L526.3,241.2 L530.6,244.1 L534.9,245.5 L539.2,247.6 L543.4,252.4 L545.0,254.2 L550.0,257.6 L557.0,258.6 L563.9,259.4 L570.9,259.5 L576.4,259.7 L580.6,261.0 L586.2,263.8 L591.7,265.9 L598.7,266.9 L608.4,267.1 L619.5,267.7 L627.9,268.0 L636.2,267.4 L643.0,267.0 L652.1,266.3 L658.8,264.0 L664.7,260.2 L669.5,256.4 L674.2,253.1 L679.0,250.0 L683.7,247.4 L686.9,242.8 L690.1,236.5 L693.2,228.5 L696.4,219.5 L699.6,214.3 L702.7,208.0 L705.9,201.6 L709.1,195.3 L711.4,189.0 L712.6,181.5" fill="none" stroke="#3f8e9c" stroke-width="2.1" stroke-linejoin="round" stroke-linecap="round"/>
<rect x="91" y="96" width="319" height="60" fill="#ffffff"/>
<g transform="translate(107.2,119.5)">
<svg width="50" height="24.5" viewBox="0 0 60 30" preserveAspectRatio="none">
<clipPath id="t"><path d="M30,15 h30 v15 z v15 h-30 z h-30 v-15 z v-15 h30 z"/></clipPath>
<path d="M0,0 v30 h60 v-30 z" fill="#012169"/>
<path d="M0,0 L60,30 M60,0 L0,30" stroke="#fff" stroke-width="6"/>
<path d="M0,0 L60,30 M60,0 L0,30" clip-path="url(#t)" stroke="#C8102E" stroke-width="4"/>
<path d="M30,0 v30 M0,15 h60" stroke="#fff" stroke-width="10"/>
<path d="M30,0 v30 M0,15 h60" stroke="#C8102E" stroke-width="6"/>
</svg></g>
<text x="167.6" y="139.5" font-size="31.5" fill="#222222" text-anchor="start" textLength="232" lengthAdjust="spacingAndGlyphs">United Kingdom</text>
<text x="359.5" y="307.9" font-size="19" fill="#3a3a3a" text-anchor="middle" textLength="110.5" lengthAdjust="spacingAndGlyphs">Daily Deaths</text>
<text x="359.5" y="336.6" font-size="12.8" fill="#666666" text-anchor="middle" textLength="87.9" lengthAdjust="spacingAndGlyphs">Deaths per Day</text>
<text x="359.8" y="351.3" font-size="12.8" fill="#666666" text-anchor="middle" textLength="137" lengthAdjust="spacingAndGlyphs">Data as of 0:00 GMT+8</text>
<rect x="78" y="369.4" width="634.5" height="1" fill="#e6e6e6"/>
<rect x="78" y="417.2" width="634.5" height="1" fill="#e6e6e6"/>
<rect x="78" y="464.6" width="634.5" height="1" fill="#e6e6e6"/>
<rect x="78" y="510.7" width="634.5" height="1" fill="#e6e6e6"/>
<text x="64.3" y="374.7" font-size="11.5" fill="#666666" text-anchor="end" textLength="28.14" lengthAdjust="spacingAndGlyphs">2000</text>
<text x="64.3" y="421.8" font-size="11.5" fill="#666666" text-anchor="end" textLength="28.14" lengthAdjust="spacingAndGlyphs">1500</text>
<text x="64.3" y="468.9" font-size="11.5" fill="#666666" text-anchor="end" textLength="28.14" lengthAdjust="spacingAndGlyphs">1000</text>
<text x="64.3" y="515.9" font-size="11.5" fill="#666666" text-anchor="end" textLength="21.1" lengthAdjust="spacingAndGlyphs">500</text>
<text x="64.3" y="561.9" font-size="11.5" fill="#666666" text-anchor="end" textLength="7.03" lengthAdjust="spacingAndGlyphs">0</text>
<text transform="translate(27,465) rotate(-90)" font-size="12.6" fill="#666666" text-anchor="middle" textLength="185" lengthAdjust="spacingAndGlyphs">Novel Coronavirus Daily Deaths</text>
<g fill="#dadada" shape-rendering="crispEdges"><rect x="108" y="558.0" width="1" height="0.3"/><rect x="113" y="557.5" width="1" height="0.8"/><rect x="119" y="557.2" width="1" height="1.1"/><rect x="124" y="554.3" width="1" height="4.0"/><rect x="130" y="545.2" width="1" height="13.1"/><rect x="136" y="497.4" width="1" height="60.9"/><rect x="141" y="517.4" width="1" height="40.9"/><rect x="147" y="466.6" width="1" height="91.7"/><rect x="152" y="459.8" width="1" height="98.5"/><rect x="158" y="523.4" width="1" height="34.9"/><rect x="163" y="464.7" width="1" height="93.6"/><rect x="169" y="474.6" width="1" height="83.7"/><rect x="174" y="516.1" width="1" height="42.2"/><rect x="180" y="508.9" width="1" height="49.4"/><rect x="186" y="514.2" width="1" height="44.1"/><rect x="191" y="532.6" width="1" height="25.7"/><rect x="197" y="525.0" width="1" height="33.3"/><rect x="202" y="548.0" width="1" height="10.3"/><rect x="208" y="537.7" width="1" height="20.6"/><rect x="213" y="539.5" width="1" height="18.8"/><rect x="219" y="552.3" width="1" height="6.0"/><rect x="225" y="550.8" width="1" height="7.5"/><rect x="230" y="547.6" width="1" height="10.7"/><rect x="236" y="555.0" width="1" height="3.3"/><rect x="241" y="550.9" width="1" height="7.4"/><rect x="247" y="551.3" width="1" height="7.0"/><rect x="252" y="556.5" width="1" height="1.8"/><rect x="258" y="554.9" width="1" height="3.4"/><rect x="263" y="556.9" width="1" height="1.4"/><rect x="269" y="557.4" width="1" height="0.9"/><rect x="275" y="556.5" width="1" height="1.8"/><rect x="280" y="557.5" width="1" height="0.8"/><rect x="286" y="557.7" width="1" height="0.6"/><rect x="291" y="556.7" width="1" height="1.6"/><rect x="297" y="557.6" width="1" height="0.7"/><rect x="302" y="557.0" width="1" height="1.3"/><rect x="308" y="556.5" width="1" height="1.8"/><rect x="313" y="557.5" width="1" height="0.8"/><rect x="319" y="556.8" width="1" height="1.5"/><rect x="325" y="556.1" width="1" height="2.2"/><rect x="330" y="557.5" width="1" height="0.8"/><rect x="336" y="556.1" width="1" height="2.2"/><rect x="341" y="554.4" width="1" height="3.9"/><rect x="347" y="556.8" width="1" height="1.5"/><rect x="352" y="554.3" width="1" height="4.0"/><rect x="358" y="551.1" width="1" height="7.2"/><rect x="364" y="555.5" width="1" height="2.8"/><rect x="369" y="549.9" width="1" height="8.4"/><rect x="375" y="544.3" width="1" height="14.0"/><rect x="380" y="551.8" width="1" height="6.5"/><rect x="386" y="537.9" width="1" height="20.4"/><rect x="391" y="548.2" width="1" height="10.1"/><rect x="397" y="547.2" width="1" height="11.1"/><rect x="402" y="518.5" width="1" height="39.8"/><rect x="408" y="539.3" width="1" height="19.0"/><rect x="414" y="540.0" width="1" height="18.3"/><rect x="419" y="501.4" width="1" height="56.9"/><rect x="425" y="536.3" width="1" height="22.0"/><rect x="430" y="522.1" width="1" height="36.2"/><rect x="436" y="499.3" width="1" height="59.0"/><rect x="441" y="539.6" width="1" height="18.7"/><rect x="447" y="525.9" width="1" height="32.4"/><rect x="452" y="501.8" width="1" height="56.5"/><rect x="458" y="536.8" width="1" height="21.5"/><rect x="464" y="514.6" width="1" height="43.7"/><rect x="469" y="468.1" width="1" height="90.2"/><rect x="475" y="526.7" width="1" height="31.6"/><rect x="480" y="446.9" width="1" height="111.4"/><rect x="486" y="414.4" width="1" height="143.9"/><rect x="491" y="508.6" width="1" height="49.7"/><rect x="497" y="428.3" width="1" height="130.0"/><rect x="503" y="421.7" width="1" height="136.6"/><rect x="508" y="518.3" width="1" height="40.0"/><rect x="514" y="460.4" width="1" height="97.9"/><rect x="519" y="522.2" width="1" height="36.1"/><rect x="525" y="534.2" width="1" height="24.1"/><rect x="530" y="494.9" width="1" height="63.4"/><rect x="536" y="540.5" width="1" height="17.8"/><rect x="541" y="533.4" width="1" height="24.9"/><rect x="547" y="535.2" width="1" height="23.1"/><rect x="553" y="549.8" width="1" height="8.5"/><rect x="558" y="547.8" width="1" height="10.5"/><rect x="564" y="545.6" width="1" height="12.7"/><rect x="569" y="554.9" width="1" height="3.4"/><rect x="575" y="552.3" width="1" height="6.0"/><rect x="580" y="551.9" width="1" height="6.4"/><rect x="586" y="556.6" width="1" height="1.7"/><rect x="591" y="554.1" width="1" height="4.2"/><rect x="597" y="553.9" width="1" height="4.4"/><rect x="603" y="556.9" width="1" height="1.4"/><rect x="608" y="555.3" width="1" height="3.0"/><rect x="614" y="554.7" width="1" height="3.6"/><rect x="619" y="557.3" width="1" height="1.0"/><rect x="625" y="556.3" width="1" height="2.0"/><rect x="630" y="557.5" width="1" height="0.8"/><rect x="636" y="557.6" width="1" height="0.7"/><rect x="642" y="556.7" width="1" height="1.6"/><rect x="647" y="557.4" width="1" height="0.9"/><rect x="653" y="557.6" width="1" height="0.7"/><rect x="658" y="556.4" width="1" height="1.9"/><rect x="664" y="557.3" width="1" height="1.0"/><rect x="669" y="556.7" width="1" height="1.6"/><rect x="675" y="555.6" width="1" height="2.7"/><rect x="680" y="557.2" width="1" height="1.1"/><rect x="686" y="556.3" width="1" height="2.0"/><rect x="692" y="554.8" width="1" height="3.5"/><rect x="697" y="557.2" width="1" height="1.1"/><rect x="703" y="554.9" width="1" height="3.4"/><rect x="708" y="553.4" width="1" height="4.9"/></g><g fill="#a9a9a9" shape-rendering="crispEdges"><rect x="105" y="558.0" width="1" height="0.3"/><rect x="106" y="557.9" width="1" height="0.4"/><rect x="107" y="557.9" width="1" height="0.4"/><rect x="109" y="558.0" width="1" height="0.3"/><rect x="110" y="557.7" width="1" height="0.6"/><rect x="111" y="557.6" width="1" height="0.7"/><rect x="112" y="557.5" width="1" height="0.8"/><rect x="114" y="557.5" width="1" height="0.8"/><rect x="115" y="557.4" width="1" height="0.9"/><rect x="116" y="557.3" width="1" height="1.0"/><rect x="117" y="557.3" width="1" height="1.0"/><rect x="118" y="557.2" width="1" height="1.1"/><rect x="120" y="557.1" width="1" height="1.2"/><rect x="121" y="557.0" width="1" height="1.3"/><rect x="122" y="556.1" width="1" height="2.2"/><rect x="123" y="554.3" width="1" height="4.0"/><rect x="125" y="553.1" width="1" height="5.2"/><rect x="126" y="552.1" width="1" height="6.2"/><rect x="127" y="548.8" width="1" height="9.5"/><rect x="128" y="547.0" width="1" height="11.3"/><rect x="129" y="545.2" width="1" height="13.1"/><rect x="131" y="536.2" width="1" height="22.1"/><rect x="132" y="526.4" width="1" height="31.9"/><rect x="133" y="541.4" width="1" height="16.9"/><rect x="134" y="538.5" width="1" height="19.8"/><rect x="135" y="497.4" width="1" height="60.9"/><rect x="137" y="493.8" width="1" height="64.5"/><rect x="138" y="489.4" width="1" height="68.9"/><rect x="139" y="491.2" width="1" height="67.1"/><rect x="140" y="483.6" width="1" height="74.7"/><rect x="142" y="517.4" width="1" height="40.9"/><rect x="143" y="516.2" width="1" height="42.1"/><rect x="144" y="462.8" width="1" height="95.5"/><rect x="145" y="457.0" width="1" height="101.3"/><rect x="146" y="450.9" width="1" height="107.4"/><rect x="148" y="466.6" width="1" height="91.7"/><rect x="149" y="475.2" width="1" height="83.1"/><rect x="150" y="520.7" width="1" height="37.6"/><rect x="151" y="459.8" width="1" height="98.5"/><rect x="153" y="455.2" width="1" height="103.1"/><rect x="154" y="454.3" width="1" height="104.0"/><rect x="155" y="459.3" width="1" height="99.0"/><rect x="156" y="454.8" width="1" height="103.5"/><rect x="157" y="482.1" width="1" height="76.2"/><rect x="159" y="523.4" width="1" height="34.9"/><rect x="160" y="448.9" width="1" height="109.4"/><rect x="161" y="451.6" width="1" height="106.7"/><rect x="162" y="456.8" width="1" height="101.5"/><rect x="164" y="464.7" width="1" height="93.6"/><rect x="165" y="470.1" width="1" height="88.2"/><rect x="166" y="498.9" width="1" height="59.4"/><rect x="167" y="527.6" width="1" height="30.7"/><rect x="168" y="474.6" width="1" height="83.7"/><rect x="170" y="474.6" width="1" height="83.7"/><rect x="171" y="490.6" width="1" height="67.7"/><rect x="172" y="481.1" width="1" height="77.2"/><rect x="173" y="492.2" width="1" height="66.1"/><rect x="175" y="516.1" width="1" height="42.2"/><rect x="176" y="538.6" width="1" height="19.7"/><rect x="177" y="537.6" width="1" height="20.7"/><rect x="178" y="496.4" width="1" height="61.9"/><rect x="179" y="501.9" width="1" height="56.4"/><rect x="181" y="508.9" width="1" height="49.4"/><rect x="182" y="516.0" width="1" height="42.3"/><rect x="183" y="524.6" width="1" height="33.7"/><rect x="184" y="543.4" width="1" height="14.9"/><rect x="185" y="506.3" width="1" height="52.0"/><rect x="187" y="514.2" width="1" height="44.1"/><rect x="188" y="515.3" width="1" height="43.0"/><rect x="189" y="520.4" width="1" height="37.9"/><rect x="190" y="524.4" width="1" height="33.9"/><rect x="192" y="532.6" width="1" height="25.7"/><rect x="193" y="546.4" width="1" height="11.9"/><rect x="194" y="515.6" width="1" height="42.7"/><rect x="195" y="518.9" width="1" height="39.4"/><rect x="196" y="517.7" width="1" height="40.6"/><rect x="198" y="525.0" width="1" height="33.3"/><rect x="199" y="530.5" width="1" height="27.8"/><rect x="200" y="536.7" width="1" height="21.6"/><rect x="201" y="548.0" width="1" height="10.3"/><rect x="203" y="547.4" width="1" height="10.9"/><rect x="204" y="518.8" width="1" height="39.5"/><rect x="205" y="527.8" width="1" height="30.5"/><rect x="206" y="531.7" width="1" height="26.6"/><rect x="207" y="534.8" width="1" height="23.5"/><rect x="209" y="537.7" width="1" height="20.6"/><rect x="210" y="550.3" width="1" height="8.0"/><rect x="211" y="549.3" width="1" height="9.0"/><rect x="212" y="530.0" width="1" height="28.3"/><rect x="214" y="539.5" width="1" height="18.8"/><rect x="215" y="535.4" width="1" height="22.9"/><rect x="216" y="541.8" width="1" height="16.5"/><rect x="217" y="545.6" width="1" height="12.7"/><rect x="218" y="552.2" width="1" height="6.1"/><rect x="220" y="552.3" width="1" height="6.0"/><rect x="221" y="541.1" width="1" height="17.2"/><rect x="222" y="543.8" width="1" height="14.5"/><rect x="223" y="545.5" width="1" height="12.8"/><rect x="224" y="549.5" width="1" height="8.8"/><rect x="226" y="550.8" width="1" height="7.5"/><rect x="227" y="554.4" width="1" height="3.9"/><rect x="228" y="554.6" width="1" height="3.7"/><rect x="229" y="547.6" width="1" height="10.7"/><rect x="231" y="547.6" width="1" height="10.7"/><rect x="232" y="549.8" width="1" height="8.5"/><rect x="233" y="549.8" width="1" height="8.5"/><rect x="234" y="551.4" width="1" height="6.9"/><rect x="235" y="555.0" width="1" height="3.3"/><rect x="237" y="554.6" width="1" height="3.7"/><rect x="238" y="548.0" width="1" height="10.3"/><rect x="239" y="550.1" width="1" height="8.2"/><rect x="240" y="550.3" width="1" height="8.0"/><rect x="242" y="550.9" width="1" height="7.4"/><rect x="243" y="553.0" width="1" height="5.3"/><rect x="244" y="555.7" width="1" height="2.6"/><rect x="245" y="555.4" width="1" height="2.9"/><rect x="246" y="551.0" width="1" height="7.3"/><rect x="248" y="551.3" width="1" height="7.0"/><rect x="249" y="551.8" width="1" height="6.5"/><rect x="250" y="553.6" width="1" height="4.7"/><rect x="251" y="554.5" width="1" height="3.8"/><rect x="253" y="556.5" width="1" height="1.8"/><rect x="254" y="556.1" width="1" height="2.2"/><rect x="255" y="552.7" width="1" height="5.6"/><rect x="256" y="553.3" width="1" height="5.0"/><rect x="257" y="554.6" width="1" height="3.7"/><rect x="259" y="554.9" width="1" height="3.4"/><rect x="260" y="555.7" width="1" height="2.6"/><rect x="261" y="557.2" width="1" height="1.1"/><rect x="262" y="556.9" width="1" height="1.4"/><rect x="264" y="554.4" width="1" height="3.9"/><rect x="265" y="555.7" width="1" height="2.6"/><rect x="266" y="555.5" width="1" height="2.8"/><rect x="267" y="556.0" width="1" height="2.3"/><rect x="268" y="556.4" width="1" height="1.9"/><rect x="270" y="557.4" width="1" height="0.9"/><rect x="271" y="557.4" width="1" height="0.9"/><rect x="272" y="555.5" width="1" height="2.8"/><rect x="273" y="555.5" width="1" height="2.8"/><rect x="274" y="556.2" width="1" height="2.1"/><rect x="276" y="556.5" width="1" height="1.8"/><rect x="277" y="556.9" width="1" height="1.4"/><rect x="278" y="557.6" width="1" height="0.7"/><rect x="279" y="557.5" width="1" height="0.8"/><rect x="281" y="555.6" width="1" height="2.7"/><rect x="282" y="556.1" width="1" height="2.2"/><rect x="283" y="556.4" width="1" height="1.9"/><rect x="284" y="556.3" width="1" height="2.0"/><rect x="285" y="557.0" width="1" height="1.3"/><rect x="287" y="557.7" width="1" height="0.6"/><rect x="288" y="557.5" width="1" height="0.8"/><rect x="289" y="556.0" width="1" height="2.3"/><rect x="290" y="556.5" width="1" height="1.8"/><rect x="292" y="556.7" width="1" height="1.6"/><rect x="293" y="556.7" width="1" height="1.6"/><rect x="294" y="557.0" width="1" height="1.3"/><rect x="295" y="557.7" width="1" height="0.6"/><rect x="296" y="557.6" width="1" height="0.7"/><rect x="298" y="556.3" width="1" height="2.0"/><rect x="299" y="556.3" width="1" height="2.0"/><rect x="300" y="556.6" width="1" height="1.7"/><rect x="301" y="556.7" width="1" height="1.6"/><rect x="303" y="557.0" width="1" height="1.3"/><rect x="304" y="557.6" width="1" height="0.7"/><rect x="305" y="557.4" width="1" height="0.9"/><rect x="306" y="556.0" width="1" height="2.3"/><rect x="307" y="556.0" width="1" height="2.3"/><rect x="309" y="556.5" width="1" height="1.8"/><rect x="310" y="556.5" width="1" height="1.8"/><rect x="311" y="556.7" width="1" height="1.6"/><rect x="312" y="557.5" width="1" height="0.8"/><rect x="314" y="557.5" width="1" height="0.8"/><rect x="315" y="555.8" width="1" height="2.5"/><rect x="316" y="556.0" width="1" height="2.3"/><rect x="317" y="556.5" width="1" height="1.8"/><rect x="318" y="556.4" width="1" height="1.9"/><rect x="320" y="556.8" width="1" height="1.5"/><rect x="321" y="557.5" width="1" height="0.8"/><rect x="322" y="557.5" width="1" height="0.8"/><rect x="323" y="556.0" width="1" height="2.3"/><rect x="324" y="555.8" width="1" height="2.5"/><rect x="326" y="556.1" width="1" height="2.2"/><rect x="327" y="556.4" width="1" height="1.9"/><rect x="328" y="556.5" width="1" height="1.8"/><rect x="329" y="557.5" width="1" height="0.8"/><rect x="331" y="557.4" width="1" height="0.9"/><rect x="332" y="555.2" width="1" height="3.1"/><rect x="333" y="555.9" width="1" height="2.4"/><rect x="334" y="555.9" width="1" height="2.4"/><rect x="335" y="555.8" width="1" height="2.5"/><rect x="337" y="556.1" width="1" height="2.2"/><rect x="338" y="557.2" width="1" height="1.1"/><rect x="339" y="557.0" width="1" height="1.3"/><rect x="340" y="554.4" width="1" height="3.9"/><rect x="342" y="554.3" width="1" height="4.0"/><rect x="343" y="554.1" width="1" height="4.2"/><rect x="344" y="554.9" width="1" height="3.4"/><rect x="345" y="554.7" width="1" height="3.6"/><rect x="346" y="556.8" width="1" height="1.5"/><rect x="348" y="556.4" width="1" height="1.9"/><rect x="349" y="552.4" width="1" height="5.9"/><rect x="350" y="552.4" width="1" height="5.9"/><rect x="351" y="553.8" width="1" height="4.5"/><rect x="353" y="554.3" width="1" height="4.0"/><rect x="354" y="554.0" width="1" height="4.3"/><rect x="355" y="556.0" width="1" height="2.3"/><rect x="356" y="555.7" width="1" height="2.6"/><rect x="357" y="549.1" width="1" height="9.2"/><rect x="359" y="551.1" width="1" height="7.2"/><rect x="360" y="551.7" width="1" height="6.6"/><rect x="361" y="551.7" width="1" height="6.6"/><rect x="362" y="552.9" width="1" height="5.4"/><rect x="363" y="555.2" width="1" height="3.1"/><rect x="365" y="555.5" width="1" height="2.8"/><rect x="366" y="548.8" width="1" height="9.5"/><rect x="367" y="551.5" width="1" height="6.8"/><rect x="368" y="548.8" width="1" height="9.5"/><rect x="370" y="549.9" width="1" height="8.4"/><rect x="371" y="550.2" width="1" height="8.1"/><rect x="372" y="553.6" width="1" height="4.7"/><rect x="373" y="553.5" width="1" height="4.8"/><rect x="374" y="543.4" width="1" height="14.9"/><rect x="376" y="544.3" width="1" height="14.0"/><rect x="377" y="545.4" width="1" height="12.9"/><rect x="378" y="545.3" width="1" height="13.0"/><rect x="379" y="545.6" width="1" height="12.7"/><rect x="381" y="551.8" width="1" height="6.5"/><rect x="382" y="550.7" width="1" height="7.6"/><rect x="383" y="536.1" width="1" height="22.2"/><rect x="384" y="534.1" width="1" height="24.2"/><rect x="385" y="536.5" width="1" height="21.8"/><rect x="387" y="537.9" width="1" height="20.4"/><rect x="388" y="539.4" width="1" height="18.9"/><rect x="389" y="548.9" width="1" height="9.4"/><rect x="390" y="548.2" width="1" height="10.1"/><rect x="392" y="525.2" width="1" height="33.1"/><rect x="393" y="524.3" width="1" height="34.0"/><rect x="394" y="530.3" width="1" height="28.0"/><rect x="395" y="526.9" width="1" height="31.4"/><rect x="396" y="533.1" width="1" height="25.2"/><rect x="398" y="547.2" width="1" height="11.1"/><rect x="399" y="541.8" width="1" height="16.5"/><rect x="400" y="511.7" width="1" height="46.6"/><rect x="401" y="512.4" width="1" height="45.9"/><rect x="403" y="518.5" width="1" height="39.8"/><rect x="404" y="521.5" width="1" height="36.8"/><rect x="405" y="520.9" width="1" height="37.4"/><rect x="406" y="540.6" width="1" height="17.7"/><rect x="407" y="539.3" width="1" height="19.0"/><rect x="409" y="502.9" width="1" height="55.4"/><rect x="410" y="503.8" width="1" height="54.5"/><rect x="411" y="510.5" width="1" height="47.8"/><rect x="412" y="512.0" width="1" height="46.3"/><rect x="413" y="523.1" width="1" height="35.2"/><rect x="415" y="540.0" width="1" height="18.3"/><rect x="416" y="541.2" width="1" height="17.1"/><rect x="417" y="503.8" width="1" height="54.5"/><rect x="418" y="498.2" width="1" height="60.1"/><rect x="420" y="501.4" width="1" height="56.9"/><rect x="421" y="511.9" width="1" height="46.4"/><rect x="422" y="519.1" width="1" height="39.2"/><rect x="423" y="535.7" width="1" height="22.6"/><rect x="424" y="536.3" width="1" height="22.0"/><rect x="426" y="493.9" width="1" height="64.4"/><rect x="427" y="493.5" width="1" height="64.8"/><rect x="428" y="505.7" width="1" height="52.6"/><rect x="429" y="506.2" width="1" height="52.1"/><rect x="431" y="522.1" width="1" height="36.2"/><rect x="432" y="539.0" width="1" height="19.3"/><rect x="433" y="537.5" width="1" height="20.8"/><rect x="434" y="498.0" width="1" height="60.3"/><rect x="435" y="497.2" width="1" height="61.1"/><rect x="437" y="499.3" width="1" height="59.0"/><rect x="438" y="515.5" width="1" height="42.8"/><rect x="439" y="523.2" width="1" height="35.1"/><rect x="440" y="539.2" width="1" height="19.1"/><rect x="442" y="539.6" width="1" height="18.7"/><rect x="443" y="500.8" width="1" height="57.5"/><rect x="444" y="500.6" width="1" height="57.7"/><rect x="445" y="510.3" width="1" height="48.0"/><rect x="446" y="511.3" width="1" height="47.0"/><rect x="448" y="525.9" width="1" height="32.4"/><rect x="449" y="538.6" width="1" height="19.7"/><rect x="450" y="540.1" width="1" height="18.2"/><rect x="451" y="501.7" width="1" height="56.6"/><rect x="453" y="501.8" width="1" height="56.5"/><rect x="454" y="505.6" width="1" height="52.7"/><rect x="455" y="503.2" width="1" height="55.1"/><rect x="456" y="514.7" width="1" height="43.6"/><rect x="457" y="536.8" width="1" height="21.5"/><rect x="459" y="531.9" width="1" height="26.4"/><rect x="460" y="489.8" width="1" height="68.5"/><rect x="461" y="489.0" width="1" height="69.3"/><rect x="462" y="501.1" width="1" height="57.2"/><rect x="463" y="502.2" width="1" height="56.1"/><rect x="465" y="514.6" width="1" height="43.7"/><rect x="466" y="538.6" width="1" height="19.7"/><rect x="467" y="528.1" width="1" height="30.2"/><rect x="468" y="468.1" width="1" height="90.2"/><rect x="470" y="466.4" width="1" height="91.9"/><rect x="471" y="489.4" width="1" height="68.9"/><rect x="472" y="489.7" width="1" height="68.6"/><rect x="473" y="496.8" width="1" height="61.5"/><rect x="474" y="526.7" width="1" height="31.6"/><rect x="476" y="522.9" width="1" height="35.4"/><rect x="477" y="450.4" width="1" height="107.9"/><rect x="478" y="446.4" width="1" height="111.9"/><rect x="479" y="446.9" width="1" height="111.4"/><rect x="481" y="434.2" width="1" height="124.1"/><rect x="482" y="478.7" width="1" height="79.6"/><rect x="483" y="513.7" width="1" height="44.6"/><rect x="484" y="515.3" width="1" height="43.0"/><rect x="485" y="414.4" width="1" height="143.9"/><rect x="487" y="412.2" width="1" height="146.1"/><rect x="488" y="427.2" width="1" height="131.1"/><rect x="489" y="447.1" width="1" height="111.2"/><rect x="490" y="438.5" width="1" height="119.8"/><rect x="492" y="508.6" width="1" height="49.7"/><rect x="493" y="500.5" width="1" height="57.8"/><rect x="494" y="392.1" width="1" height="166.2"/><rect x="495" y="388.8" width="1" height="169.5"/><rect x="496" y="408.6" width="1" height="149.7"/><rect x="498" y="428.3" width="1" height="130.0"/><rect x="499" y="438.6" width="1" height="119.7"/><rect x="500" y="509.1" width="1" height="49.2"/><rect x="501" y="502.7" width="1" height="55.6"/><rect x="502" y="421.7" width="1" height="136.6"/><rect x="504" y="396.1" width="1" height="162.2"/><rect x="505" y="433.7" width="1" height="124.6"/><rect x="506" y="441.1" width="1" height="117.2"/><rect x="507" y="461.4" width="1" height="96.9"/><rect x="509" y="518.3" width="1" height="40.0"/><rect x="510" y="508.6" width="1" height="49.7"/><rect x="511" y="422.4" width="1" height="135.9"/><rect x="512" y="456.5" width="1" height="101.8"/><rect x="513" y="454.3" width="1" height="104.0"/><rect x="515" y="460.4" width="1" height="97.9"/><rect x="516" y="498.5" width="1" height="59.8"/><rect x="517" y="522.4" width="1" height="35.9"/><rect x="518" y="522.2" width="1" height="36.1"/><rect x="520" y="459.0" width="1" height="99.3"/><rect x="521" y="467.3" width="1" height="91.0"/><rect x="522" y="475.4" width="1" height="82.9"/><rect x="523" y="493.1" width="1" height="65.2"/><rect x="524" y="502.3" width="1" height="56.0"/><rect x="526" y="534.2" width="1" height="24.1"/><rect x="527" y="530.4" width="1" height="27.9"/><rect x="528" y="487.5" width="1" height="70.8"/><rect x="529" y="483.9" width="1" height="74.4"/><rect x="531" y="494.9" width="1" height="63.4"/><rect x="532" y="507.0" width="1" height="51.3"/><rect x="533" y="519.5" width="1" height="38.8"/><rect x="534" y="541.6" width="1" height="16.7"/><rect x="535" y="540.5" width="1" height="17.8"/><rect x="537" y="508.8" width="1" height="49.5"/><rect x="538" y="511.2" width="1" height="47.1"/><rect x="539" y="519.8" width="1" height="38.5"/><rect x="540" y="524.7" width="1" height="33.6"/><rect x="542" y="533.4" width="1" height="24.9"/><rect x="543" y="545.2" width="1" height="13.1"/><rect x="544" y="546.3" width="1" height="12.0"/><rect x="545" y="528.5" width="1" height="29.8"/><rect x="546" y="531.4" width="1" height="26.9"/><rect x="548" y="535.2" width="1" height="23.1"/><rect x="549" y="537.1" width="1" height="21.2"/><rect x="550" y="542.4" width="1" height="15.9"/><rect x="551" y="550.6" width="1" height="7.7"/><rect x="552" y="549.8" width="1" height="8.5"/><rect x="554" y="538.1" width="1" height="20.2"/><rect x="555" y="540.3" width="1" height="18.0"/><rect x="556" y="540.9" width="1" height="17.4"/><rect x="557" y="543.4" width="1" height="14.9"/><rect x="559" y="547.8" width="1" height="10.5"/><rect x="560" y="552.6" width="1" height="5.7"/><rect x="561" y="552.8" width="1" height="5.5"/><rect x="562" y="543.1" width="1" height="15.2"/><rect x="563" y="543.9" width="1" height="14.4"/><rect x="565" y="545.6" width="1" height="12.7"/><rect x="566" y="548.9" width="1" height="9.4"/><rect x="567" y="550.4" width="1" height="7.9"/><rect x="568" y="554.9" width="1" height="3.4"/><rect x="570" y="553.8" width="1" height="4.5"/><rect x="571" y="547.9" width="1" height="10.4"/><rect x="572" y="548.2" width="1" height="10.1"/><rect x="573" y="551.0" width="1" height="7.3"/><rect x="574" y="551.2" width="1" height="7.1"/><rect x="576" y="552.3" width="1" height="6.0"/><rect x="577" y="556.4" width="1" height="1.9"/><rect x="578" y="555.9" width="1" height="2.4"/><rect x="579" y="550.7" width="1" height="7.6"/><rect x="581" y="551.9" width="1" height="6.4"/><rect x="582" y="553.0" width="1" height="5.3"/><rect x="583" y="552.5" width="1" height="5.8"/><rect x="584" y="554.3" width="1" height="4.0"/><rect x="585" y="556.6" width="1" height="1.7"/><rect x="587" y="556.1" width="1" height="2.2"/><rect x="588" y="553.1" width="1" height="5.2"/><rect x="589" y="552.6" width="1" height="5.7"/><rect x="590" y="553.9" width="1" height="4.4"/><rect x="592" y="554.1" width="1" height="4.2"/><rect x="593" y="554.7" width="1" height="3.6"/><rect x="594" y="556.7" width="1" height="1.6"/><rect x="595" y="556.8" width="1" height="1.5"/><rect x="596" y="553.9" width="1" height="4.4"/><rect x="598" y="553.4" width="1" height="4.9"/><rect x="599" y="554.2" width="1" height="4.1"/><rect x="600" y="555.1" width="1" height="3.2"/><rect x="601" y="555.3" width="1" height="3.0"/><rect x="602" y="556.9" width="1" height="1.4"/><rect x="604" y="556.8" width="1" height="1.5"/><rect x="605" y="554.8" width="1" height="3.5"/><rect x="606" y="554.7" width="1" height="3.6"/><rect x="607" y="554.9" width="1" height="3.4"/><rect x="609" y="555.3" width="1" height="3.0"/><rect x="610" y="555.9" width="1" height="2.4"/><rect x="611" y="557.4" width="1" height="0.9"/><rect x="612" y="557.1" width="1" height="1.2"/><rect x="613" y="554.7" width="1" height="3.6"/><rect x="615" y="554.6" width="1" height="3.7"/><rect x="616" y="555.8" width="1" height="2.5"/><rect x="617" y="555.9" width="1" height="2.4"/><rect x="618" y="556.3" width="1" height="2.0"/><rect x="620" y="557.3" width="1" height="1.0"/><rect x="621" y="557.3" width="1" height="1.0"/><rect x="622" y="554.9" width="1" height="3.4"/><rect x="623" y="555.7" width="1" height="2.6"/><rect x="624" y="555.9" width="1" height="2.4"/><rect x="626" y="556.3" width="1" height="2.0"/><rect x="627" y="556.6" width="1" height="1.7"/><rect x="628" y="557.5" width="1" height="0.8"/><rect x="629" y="557.5" width="1" height="0.8"/><rect x="631" y="555.4" width="1" height="2.9"/><rect x="632" y="555.9" width="1" height="2.4"/><rect x="633" y="556.3" width="1" height="2.0"/><rect x="634" y="556.4" width="1" height="1.9"/><rect x="635" y="556.6" width="1" height="1.7"/><rect x="637" y="557.6" width="1" height="0.7"/><rect x="638" y="557.5" width="1" height="0.8"/><rect x="639" y="555.6" width="1" height="2.7"/><rect x="640" y="555.9" width="1" height="2.4"/><rect x="641" y="556.3" width="1" height="2.0"/><rect x="643" y="556.7" width="1" height="1.6"/><rect x="644" y="556.6" width="1" height="1.7"/><rect x="645" y="557.5" width="1" height="0.8"/><rect x="646" y="557.4" width="1" height="0.9"/><rect x="648" y="555.8" width="1" height="2.5"/><rect x="649" y="556.0" width="1" height="2.3"/><rect x="650" y="556.3" width="1" height="2.0"/><rect x="651" y="556.6" width="1" height="1.7"/><rect x="652" y="556.9" width="1" height="1.4"/><rect x="654" y="557.6" width="1" height="0.7"/><rect x="655" y="557.5" width="1" height="0.8"/><rect x="656" y="556.0" width="1" height="2.3"/><rect x="657" y="555.8" width="1" height="2.5"/><rect x="659" y="556.4" width="1" height="1.9"/><rect x="660" y="556.2" width="1" height="2.1"/><rect x="661" y="556.8" width="1" height="1.5"/><rect x="662" y="557.4" width="1" height="0.9"/><rect x="663" y="557.3" width="1" height="1.0"/><rect x="665" y="555.4" width="1" height="2.9"/><rect x="666" y="555.8" width="1" height="2.5"/><rect x="667" y="555.9" width="1" height="2.4"/><rect x="668" y="556.1" width="1" height="2.2"/><rect x="670" y="556.7" width="1" height="1.6"/><rect x="671" y="557.4" width="1" height="0.9"/><rect x="672" y="557.2" width="1" height="1.1"/><rect x="673" y="555.3" width="1" height="3.0"/><rect x="674" y="555.4" width="1" height="2.9"/><rect x="676" y="555.6" width="1" height="2.7"/><rect x="677" y="555.7" width="1" height="2.6"/><rect x="678" y="556.2" width="1" height="2.1"/><rect x="679" y="557.2" width="1" height="1.1"/><rect x="681" y="557.2" width="1" height="1.1"/><rect x="682" y="554.8" width="1" height="3.5"/><rect x="683" y="555.1" width="1" height="3.2"/><rect x="684" y="555.4" width="1" height="2.9"/><rect x="685" y="555.6" width="1" height="2.7"/><rect x="687" y="556.3" width="1" height="2.0"/><rect x="688" y="557.2" width="1" height="1.1"/><rect x="689" y="557.0" width="1" height="1.3"/><rect x="690" y="554.6" width="1" height="3.7"/><rect x="691" y="554.6" width="1" height="3.7"/><rect x="693" y="554.8" width="1" height="3.5"/><rect x="694" y="555.1" width="1" height="3.2"/><rect x="695" y="555.1" width="1" height="3.2"/><rect x="696" y="557.2" width="1" height="1.1"/><rect x="698" y="556.7" width="1" height="1.6"/><rect x="699" y="553.9" width="1" height="4.4"/><rect x="700" y="553.1" width="1" height="5.2"/><rect x="701" y="552.9" width="1" height="5.4"/><rect x="702" y="554.9" width="1" height="3.4"/><rect x="704" y="554.7" width="1" height="3.6"/><rect x="705" y="556.4" width="1" height="1.9"/><rect x="706" y="556.2" width="1" height="2.1"/><rect x="707" y="551.9" width="1" height="6.4"/><rect x="709" y="553.4" width="1" height="4.9"/><rect x="710" y="552.7" width="1" height="5.6"/><rect x="711" y="553.3" width="1" height="5.0"/></g>
<rect x="78" y="557.8" width="634.5" height="1" fill="#cccccc"/>
<path d="M105.5,557.9 L114.0,557.4 L120.0,555.5 L124.4,553.7 L127.8,549.8 L131.1,542.0 L134.4,532.1 L136.6,523.2 L138.8,514.4 L141.0,504.4 L143.3,493.3 L145.6,478.5 L147.9,471.2 L151.1,469.5 L153.5,470.9 L156.6,473.2 L159.8,476.4 L164.3,482.3 L168.5,489.9 L172.8,496.3 L177.1,503.5 L181.4,511.3 L185.6,518.4 L189.9,524.1 L194.2,528.4 L198.4,530.5 L202.7,532.6 L207.0,534.8 L211.2,537.6 L215.5,540.5 L219.8,543.3 L224.1,546.2 L228.3,548.8 L234.0,550.7 L241.7,551.3 L245.9,551.8 L248.7,552.7 L255.6,554.1 L262.6,555.2 L269.5,556.1 L283.0,556.7 L300.0,556.9 L320.0,556.6 L335.0,556.4 L341.7,555.9 L348.7,555.0 L355.6,554.1 L362.6,553.1 L369.5,552.0 L375.1,549.9 L380.7,547.1 L384.8,543.8 L389.5,540.9 L394.3,536.1 L399.0,532.3 L403.8,528.5 L408.5,523.8 L412.3,519.5 L416.1,518.5 L421.4,516.6 L428.6,513.1 L435.8,516.1 L443.1,517.4 L450.3,517.4 L455.0,516.6 L459.0,511.5 L462.9,507.5 L466.9,512.6 L470.8,508.9 L475.6,499.4 L478.7,491.5 L481.1,479.5 L483.5,472.5 L485.9,462.0 L488.2,456.6 L493.0,451.9 L496.1,443.0 L499.3,440.3 L504.1,441.6 L508.8,447.2 L512.0,456.3 L515.1,466.1 L518.3,475.6 L521.5,484.0 L522.8,488.3 L525.7,494.9 L528.5,499.9 L531.4,506.3 L534.2,511.3 L537.1,514.6 L539.9,521.0 L542.8,526.7 L545.6,530.5 L548.5,534.1 L552.8,538.4 L557.0,542.4 L561.3,544.8 L565.6,547.4 L571.3,549.8 L577.0,551.8 L582.1,553.3 L593.2,554.4 L615.3,555.9 L637.4,556.6 L659.5,556.6 L681.6,556.1 L697.1,555.5 L711.5,553.9" fill="none" stroke="#efe0b4" stroke-width="3.8" stroke-linejoin="round" stroke-linecap="round"/><path d="M105.5,557.9 L114.0,557.4 L120.0,555.5 L124.4,553.7 L127.8,549.8 L131.1,542.0 L134.4,532.1 L136.6,523.2 L138.8,514.4 L141.0,504.4 L143.3,493.3 L145.6,478.5 L147.9,471.2 L151.1,469.5 L153.5,470.9 L156.6,473.2 L159.8,476.4 L164.3,482.3 L168.5,489.9 L172.8,496.3 L177.1,503.5 L181.4,511.3 L185.6,518.4 L189.9,524.1 L194.2,528.4 L198.4,530.5 L202.7,532.6 L207.0,534.8 L211.2,537.6 L215.5,540.5 L219.8,543.3 L224.1,546.2 L228.3,548.8 L234.0,550.7 L241.7,551.3 L245.9,551.8 L248.7,552.7 L255.6,554.1 L262.6,555.2 L269.5,556.1 L283.0,556.7 L300.0,556.9 L320.0,556.6 L335.0,556.4 L341.7,555.9 L348.7,555.0 L355.6,554.1 L362.6,553.1 L369.5,552.0 L375.1,549.9 L380.7,547.1 L384.8,543.8 L389.5,540.9 L394.3,536.1 L399.0,532.3 L403.8,528.5 L408.5,523.8 L412.3,519.5 L416.1,518.5 L421.4,516.6 L428.6,513.1 L435.8,516.1 L443.1,517.4 L450.3,517.4 L455.0,516.6 L459.0,511.5 L462.9,507.5 L466.9,512.6 L470.8,508.9 L475.6,499.4 L478.7,491.5 L481.1,479.5 L483.5,472.5 L485.9,462.0 L488.2,456.6 L493.0,451.9 L496.1,443.0 L499.3,440.3 L504.1,441.6 L508.8,447.2 L512.0,456.3 L515.1,466.1 L518.3,475.6 L521.5,484.0 L522.8,488.3 L525.7,494.9 L528.5,499.9 L531.4,506.3 L534.2,511.3 L537.1,514.6 L539.9,521.0 L542.8,526.7 L545.6,530.5 L548.5,534.1 L552.8,538.4 L557.0,542.4 L561.3,544.8 L565.6,547.4 L571.3,549.8 L577.0,551.8 L582.1,553.3 L593.2,554.4 L615.3,555.9 L637.4,556.6 L659.5,556.6 L681.6,556.1 L697.1,555.5 L711.5,553.9" fill="none" stroke="#9a772e" stroke-width="2.0" stroke-linejoin="round" stroke-linecap="round"/>
<text transform="translate(82.40,575.5) rotate(-45)" font-size="12" fill="#666666" text-anchor="end">Feb 15, 2020</text>
<text transform="translate(103.17,575.5) rotate(-45)" font-size="12" fill="#666666" text-anchor="end">Mar 03, 2020</text>
<text transform="translate(123.94,575.5) rotate(-45)" font-size="12" fill="#666666" text-anchor="end">Mar 20, 2020</text>
<text transform="translate(144.71,575.5) rotate(-45)" font-size="12" fill="#666666" text-anchor="end">Apr 06, 2020</text>
<text transform="translate(165.48,575.5) rotate(-45)" font-size="12" fill="#666666" text-anchor="end">Apr 23, 2020</text>
<text transform="translate(186.25,575.5) rotate(-45)" font-size="12" fill="#666666" text-anchor="end">May 10, 2020</text>
<text transform="translate(207.02,575.5) rotate(-45)" font-size="12" fill="#666666" text-anchor="end">May 27, 2020</text>
<text transform="translate(227.79,575.5) rotate(-45)" font-size="12" fill="#666666" text-anchor="end">Jun 13, 2020</text>
<text transform="translate(248.56,575.5) rotate(-45)" font-size="12" fill="#666666" text-anchor="end">Jun 30, 2020</text>
<text transform="translate(269.33,575.5) rotate(-45)" font-size="12" fill="#666666" text-anchor="end">Jul 17, 2020</text>
<text transform="translate(290.10,575.5) rotate(-45)" font-size="12" fill="#666666" text-anchor="end">Aug 03, 2020</text>
<text transform="translate(310.87,575.5) rotate(-45)" font-size="12" fill="#666666" text-anchor="end">Aug 20, 2020</text>
<text transform="translate(331.64,575.5) rotate(-45)" font-size="12" fill="#666666" text-anchor="end">Sep 06, 2020</text>
<text transform="translate(352.41,575.5) rotate(-45)" font-size="12" fill="#666666" text-anchor="end">Sep 23, 2020</text>
<text transform="translate(373.18,575.5) rotate(-45)" font-size="12" fill="#666666" text-anchor="end">Oct 10, 2020</text>
<text transform="translate(393.95,575.5) rotate(-45)" font-size="12" fill="#666666" text-anchor="end">Oct 27, 2020</text>
<text transform="translate(414.72,575.5) rotate(-45)" font-size="12" fill="#666666" text-anchor="end">Nov 13, 2020</text>
<text transform="translate(435.49,575.5) rotate(-45)" font-size="12" fill="#666666" text-anchor="end">Nov 30, 2020</text>
<text transform="translate(456.26,575.5) rotate(-45)" font-size="12" fill="#666666" text-anchor="end">Dec 17, 2020</text>
<text transform="translate(477.03,575.5) rotate(-45)" font-size="12" fill="#666666" text-anchor="end">Jan 03, 2021</text>
<text transform="translate(497.80,575.5) rotate(-45)" font-size="12" fill="#666666" text-anchor="end">Jan 20, 2021</text>
<text transform="translate(518.57,575.5) rotate(-45)" font-size="12" fill="#666666" text-anchor="end">Feb 06, 2021</text>
<text transform="translate(539.34,575.5) rotate(-45)" font-size="12" fill="#666666" text-anchor="end">Feb 23, 2021</text>
<text transform="translate(560.11,575.5) rotate(-45)" font-size="12" fill="#666666" text-anchor="end">Mar 12, 2021</text>
<text transform="translate(580.88,575.5) rotate(-45)" font-size="12" fill="#666666" text-anchor="end">Mar 29, 2021</text>
<text transform="translate(601.65,575.5) rotate(-45)" font-size="12" fill="#666666" text-anchor="end">Apr 15, 2021</text>
<text transform="translate(622.42,575.5) rotate(-45)" font-size="12" fill="#666666" text-anchor="end">May 02, 2021</text>
<text transform="translate(643.19,575.5) rotate(-45)" font-size="12" fill="#666666" text-anchor="end">May 19, 2021</text>
<text transform="translate(663.96,575.5) rotate(-45)" font-size="12" fill="#666666" text-anchor="end">Jun 05, 2021</text>
<text transform="translate(684.73,575.5) rotate(-45)" font-size="12" fill="#666666" text-anchor="end">Jun 22, 2021</text>
<text transform="translate(705.50,575.5) rotate(-45)" font-size="12" fill="#666666" text-anchor="end">Jul 09, 2021</text></svg>
</body></html>
